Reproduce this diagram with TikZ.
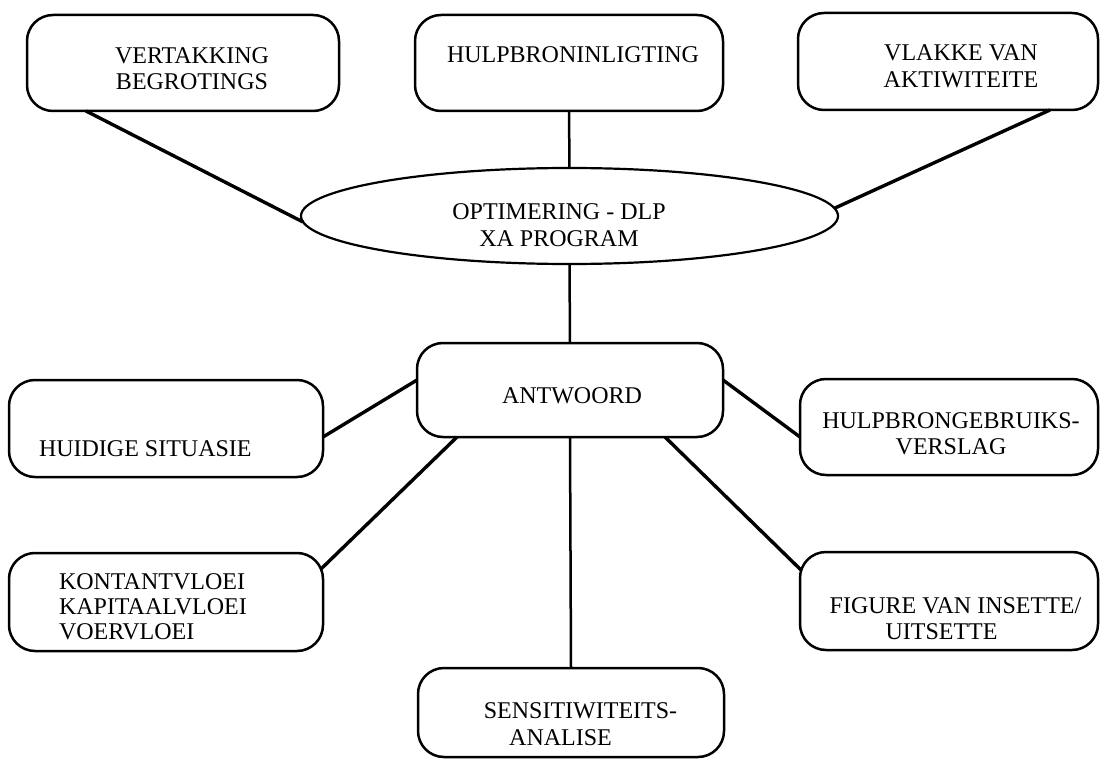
\documentclass[tikz,border=0pt]{standalone}
\usepackage{fontspec}
\setmainfont{Liberation Serif}
\usetikzlibrary{shapes.geometric,calc}
\begin{document}
\begin{tikzpicture}[x=1pt,y=-1pt,
  boxnode/.style={draw, rounded corners=26pt, line width=2.5pt, inner sep=0pt, outer sep=0pt},
  conn/.style={line width=3.4pt},
  vconn/.style={line width=2.5pt},
  txt/.style={inner sep=0pt, outer sep=0pt, font=\fontsize{24}{26}\selectfont, anchor=north, align=center}]
\useasboundingbox (0,0) rectangle (1100,759);
% boxes
\node[boxnode, minimum width=312pt, minimum height=96pt] (vb) at (183,63) {};
\node[boxnode, minimum width=308pt, minimum height=96pt] (hb) at (569,63) {};
\node[boxnode, minimum width=300pt, minimum height=97pt] (vl) at (948,61.5) {};
\node[draw, ellipse, line width=2.2pt, inner sep=0pt, outer sep=0pt, minimum width=537pt, minimum height=96pt] (el) at (569.5,216) {};
\node[boxnode, minimum width=306pt, minimum height=94pt] (ant) at (570,390) {};
\node[boxnode, minimum width=314pt, minimum height=97pt] (hs) at (166,428.5) {};
\node[boxnode, minimum width=298pt, minimum height=96pt] (hg) at (949,427) {};
\node[boxnode, minimum width=314pt, minimum height=98pt] (kv) at (166,602) {};
\node[boxnode, minimum width=298pt, minimum height=98pt] (fg) at (949,601) {};
\node[boxnode, minimum width=306pt, minimum height=89pt] (sa) at (571,712.5) {};
% texts
\node[txt] (tvb) at (192,48) {VERTAKKING\\BEGROTINGS};
\node[txt] (thb) at (573,47) {HULPBRONINLIGTING};
\node[txt] (tvl) at (961,45) {VLAKKE VAN\\[1pt]AKTIWITEITE};
\node[txt] (tel) at (559,204) {OPTIMERING - DLP\\[1pt]XA PROGRAM};
\node[txt] (tant) at (572,388) {ANTWOORD};
\node[txt, anchor=north west] (ths) at (39,441) {HUIDIGE SITUASIE};
\node[txt, anchor=north west, align=left, font=\fontsize{24}{25}\selectfont] (tkv) at (59,574) {KONTANTVLOEI\\KAPITAALVLOEI\\VOERVLOEI};
\node[txt] (thg) at (951,413) {HULPBRONGEBRUIKS-\\VERSLAG};
\node[txt] (tfg) at (955.5,598) {FIGURE VAN INSETTE/\\UITSETTE\hspace*{28pt}};
\node[txt] (tsa) at (580.5,703) {SENSITIWITEITS-\\[1pt]ANALISE\hspace*{40pt}};
% connectors
\draw[conn] ($(vb.south)+(-97,0)$) -- ($(el.west)+(2,6)$);
\draw[vconn] (hb.south) -- (el.north);
\draw[conn] ($(vl.south)+(102,0)$) -- ($(el.east)+(-3,-8)$);
\draw[vconn] (el.south) -- (ant.north);
\draw[conn] ($(ant.west)+(0,-10)$) -- ($(hs.east)+(0,8.5)$);
\draw[conn] ($(ant.south)+(-113,0)$) -- ($(kv.east)+(-2,-33)$);
\draw[conn] ($(ant.east)+(0,-10)$) -- ($(hg.west)+(0,10)$);
\draw[conn] ($(ant.south)+(95,0)$) -- ($(fg.west)+(1,-31)$);
\draw[vconn] (ant.south) -- (sa.north);
\end{tikzpicture}
\end{document}
